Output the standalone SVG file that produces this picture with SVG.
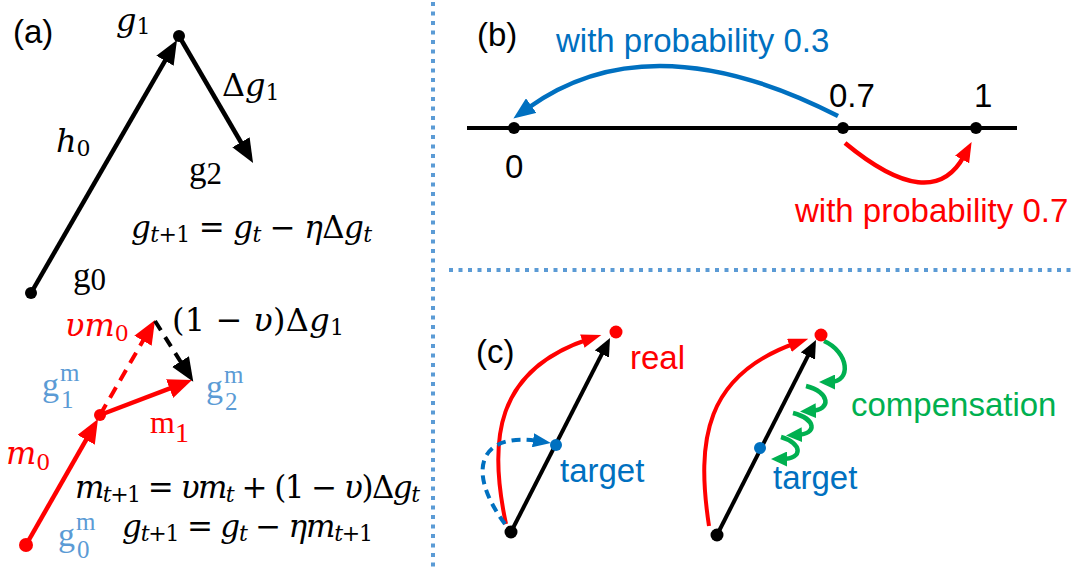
<svg xmlns="http://www.w3.org/2000/svg" width="1074" height="568" viewBox="0 0 1074 568">
<style>
.sans{font-family:"Liberation Sans",Arial,sans-serif;font-size:33px}
.m{font-family:"DejaVu Serif",serif;font-size:31px}
.L{font-size:32px}
.u{font-family:"Liberation Serif","Times New Roman",serif}
.i{font-style:italic}
.s{font-size:22px}
.red{fill:#FF0000}
.lb{fill:#5B9BD5}
.db{fill:#0070C0}
.gr{fill:#00B050}
</style>
<defs>
<marker id="aK" viewBox="0 0 24 20" markerWidth="24" markerHeight="20" refX="6" refY="10" markerUnits="userSpaceOnUse" orient="auto"><path d="M0,0 L24,10 L0,20 Z" fill="#000"/></marker>
<marker id="aR" viewBox="0 0 24 20" markerWidth="24" markerHeight="20" refX="6" refY="10" markerUnits="userSpaceOnUse" orient="auto"><path d="M0,0 L24,10 L0,20 Z" fill="#FF0000"/></marker>
<marker id="aBb" viewBox="0 0 22 18" markerWidth="22" markerHeight="18" refX="4" refY="9" markerUnits="userSpaceOnUse" orient="auto"><path d="M0,0 L22,9 L0,18 Z" fill="#0070C0"/></marker>
<marker id="aRb" viewBox="0 0 20 16" markerWidth="20" markerHeight="16" refX="4" refY="8" markerUnits="userSpaceOnUse" orient="auto"><path d="M0,0 L20,8 L0,16 Z" fill="#FF0000"/></marker>
<marker id="aKc" viewBox="0 0 18 16" markerWidth="18" markerHeight="16" refX="5" refY="8" markerUnits="userSpaceOnUse" orient="auto"><path d="M0,0 L18,8 L0,16 Z" fill="#000"/></marker>
<marker id="aRc" viewBox="0 0 20 14" markerWidth="20" markerHeight="14" refX="7" refY="7" markerUnits="userSpaceOnUse" orient="auto"><path d="M0,0 L20,7 L0,14 Z" fill="#FF0000"/></marker>
<marker id="aBc" viewBox="0 0 18 14" markerWidth="18" markerHeight="14" refX="5" refY="7" markerUnits="userSpaceOnUse" orient="auto"><path d="M0,0 L18,7 L0,14 Z" fill="#0070C0"/></marker>
<marker id="aG" viewBox="0 0 16 15" markerWidth="16" markerHeight="15" refX="5" refY="7.5" markerUnits="userSpaceOnUse" orient="auto"><path d="M0,0 L16,7.5 L0,15 Z" fill="#00B050"/></marker>
</defs>

<g id="dividers" stroke="#5B9BD5" stroke-width="4" stroke-dasharray="4 5.5" fill="none">
<line x1="433" y1="2" x2="433" y2="568"/>
<line x1="449" y1="270" x2="1074" y2="270"/>
</g>

<g id="connectors" fill="none">
<path d="M31,293 L168,55.6" stroke="#000" stroke-width="4.5" marker-end="url(#aK)"/>
<path d="M179,36 L244,147.5" stroke="#000" stroke-width="4.5" marker-end="url(#aK)"/>
<path d="M26,545 L89.1,434.6" stroke="#FF0000" stroke-width="4.5" marker-end="url(#aR)"/>
<path d="M100,415 L175.2,386.4" stroke="#FF0000" stroke-width="4.5" marker-end="url(#aR)"/>
<path d="M100,415 L146,335.6" stroke="#FF0000" stroke-width="4" stroke-dasharray="12 8" marker-end="url(#aR)"/>
<path d="M155,321 L183.7,366.6" stroke="#000" stroke-width="4" stroke-dasharray="11 8" marker-end="url(#aK)"/>
<path d="M467,128 L1017,128" stroke="#000" stroke-width="4"/>
<path d="M838,116 Q650,20 528,108" stroke="#0070C0" stroke-width="4.5" marker-end="url(#aBb)"/>
<path d="M845,143 Q932,215 964,156" stroke="#FF0000" stroke-width="4.5" marker-end="url(#aRb)"/>
<path d="M511,532 L604.1,349.6" stroke="#000" stroke-width="4" marker-end="url(#aKc)"/>
<path d="M506,524 C488,440 495,370 589,339" stroke="#FF0000" stroke-width="4" marker-end="url(#aRc)"/>
<path d="M505,524 C465,470 480,432 538,441" stroke="#0070C0" stroke-width="4" stroke-dasharray="9 6" marker-end="url(#aBc)"/>
<path d="M717,535 L810.1,351.6" stroke="#000" stroke-width="4" marker-end="url(#aKc)"/>
<path d="M709,526 C696,440 705,375 796,343" stroke="#FF0000" stroke-width="4" marker-end="url(#aRc)"/>
<path d="M824,341 C849,352 852,382 830,382" stroke="#00B050" stroke-width="4.5" marker-end="url(#aG)"/>
<path d="M806,386 C830,392 832,410 811,411" stroke="#00B050" stroke-width="4.5" marker-end="url(#aG)"/>
<path d="M793,413 C816,419 818,434 797,435" stroke="#00B050" stroke-width="4.5" marker-end="url(#aG)"/>
<path d="M781,437 C802,443 804,459 782,459" stroke="#00B050" stroke-width="4.5" marker-end="url(#aG)"/>
</g>

<g id="panel-a">
<text class="sans" x="13" y="43">(a)</text>
<g id="node-g1"><circle cx="179" cy="36" r="6" fill="#000"/><text class="m L" x="116" y="31"><tspan class="i">g</tspan><tspan class="s" dy="3">1</tspan></text></g>
<g id="node-g0"><circle cx="31" cy="293" r="6" fill="#000"/><text class="u" x="73" y="287" font-size="35">g<tspan font-size="31" dy="3">0</tspan></text></g>
<g id="label-dg1"><text class="m L" x="222" y="96">Δ<tspan class="i">g</tspan><tspan class="s" dy="4">1</tspan></text></g>
<g id="label-h0"><text class="m L" x="56" y="152"><tspan class="i">h</tspan><tspan class="s" dy="4">0</tspan></text></g>
<g id="node-g2"><text class="u" x="189" y="181" font-size="35">g<tspan font-size="31" dy="3">2</tspan></text></g>
<g id="eq1"><text class="m" x="131" y="238" textLength="241" lengthAdjust="spacing"><tspan class="i">g</tspan><tspan class="s" dy="4"><tspan class="i">t</tspan>+1</tspan><tspan dy="-4"> = </tspan><tspan class="i">g</tspan><tspan class="s i" dy="4">t</tspan><tspan dy="-4"> − </tspan><tspan class="i">η</tspan>Δ<tspan class="i">g</tspan><tspan class="s i" dy="4">t</tspan></text></g>
<g id="node-g0m"><circle cx="26" cy="545" r="7" fill="#FF0000"/><text class="u lb" x="58" y="546" font-size="34">g</text><text class="u lb" x="76" y="530" font-size="25">m</text><text class="u lb" x="77" y="558" font-size="25">0</text></g>
<g id="node-g1m"><circle cx="100" cy="415" r="6" fill="#FF0000"/><text class="u lb" x="42" y="396" font-size="34">g</text><text class="u lb" x="60" y="381" font-size="25">m</text><text class="u lb" x="61" y="408" font-size="25">1</text></g>
<g id="node-g2m"><text class="u lb" x="206" y="398" font-size="34">g</text><text class="u lb" x="224" y="383" font-size="25">m</text><text class="u lb" x="225" y="410" font-size="25">2</text></g>
<g id="label-vm0"><text class="m L red" x="65" y="336"><tspan class="i">υm</tspan><tspan class="s" dy="5">0</tspan></text></g>
<g id="label-1vdg1"><text class="m L" x="172" y="331" textLength="172" lengthAdjust="spacing">(1 − <tspan class="i">υ</tspan>)Δ<tspan class="i">g</tspan><tspan class="s" dy="4">1</tspan></text></g>
<g id="label-m1"><text class="u red" x="150" y="433" font-size="32">m<tspan font-size="28" dy="9">1</tspan></text></g>
<g id="label-m0"><text class="m L red" x="6" y="464"><tspan class="i">m</tspan><tspan class="s" dy="6">0</tspan></text></g>
<g id="eq2"><text class="m" x="75" y="498" textLength="345" lengthAdjust="spacing"><tspan class="i">m</tspan><tspan class="s" dy="4"><tspan class="i">t</tspan>+1</tspan><tspan dy="-4"> = </tspan><tspan class="i">υm</tspan><tspan class="s i" dy="4">t</tspan><tspan dy="-4"> + (1 − </tspan><tspan class="i">υ</tspan>)Δ<tspan class="i">g</tspan><tspan class="s i" dy="4">t</tspan></text></g>
<g id="eq3"><text class="m" x="122" y="537" textLength="251" lengthAdjust="spacing"><tspan class="i">g</tspan><tspan class="s" dy="4"><tspan class="i">t</tspan>+1</tspan><tspan dy="-4"> = </tspan><tspan class="i">g</tspan><tspan class="s i" dy="4">t</tspan><tspan dy="-4"> − </tspan><tspan class="i">ηm</tspan><tspan class="s" dy="4"><tspan class="i">t</tspan>+1</tspan></text></g>
</g>

<g id="panel-b">
<text class="sans" x="477" y="46">(b)</text>
<g id="node-0"><circle cx="514" cy="128" r="6" fill="#000"/><text class="sans" x="505" y="178">0</text></g>
<g id="node-07"><circle cx="843" cy="128" r="6" fill="#000"/><text class="sans" x="829" y="107">0.7</text></g>
<g id="node-1"><circle cx="976" cy="128" r="6" fill="#000"/><text class="sans" x="974" y="107">1</text></g>
<text class="sans db" x="556" y="52">with probability 0.3</text>
<text class="sans red" x="795" y="222">with probability 0.7</text>
</g>

<g id="panel-c">
<text class="sans" x="476" y="363">(c)</text>
<g id="c1-start"><circle cx="511" cy="532" r="6.5" fill="#000"/></g>
<g id="c1-real"><circle cx="616" cy="332" r="6.5" fill="#FF0000"/><text class="sans red" x="630" y="369">real</text></g>
<g id="c1-target"><circle cx="556" cy="445" r="6" fill="#0070C0"/><text class="sans db" x="560" y="482">target</text></g>
<g id="c2-start"><circle cx="717" cy="535" r="6.5" fill="#000"/></g>
<g id="c2-real"><circle cx="821" cy="335" r="6.5" fill="#FF0000"/></g>
<g id="c2-target"><circle cx="760" cy="448" r="6" fill="#0070C0"/><text class="sans db" x="773" y="489">target</text></g>
<text class="sans gr" x="851" y="416">compensation</text>
</g>
</svg>
